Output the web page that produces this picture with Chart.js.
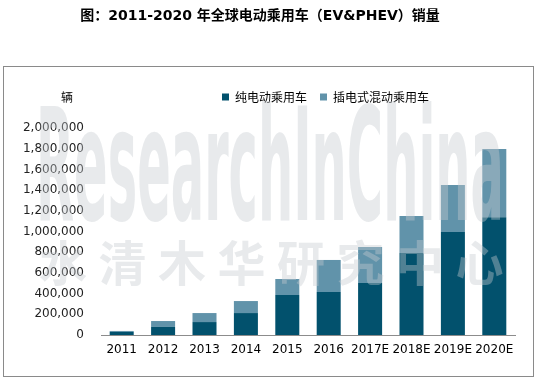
<!DOCTYPE html>
<html><head><meta charset="utf-8">
<script src="https://cdn.jsdelivr.net/npm/chart.js@4.4.0/dist/chart.umd.min.js"></script>
<style>html,body{margin:0;padding:0;background:#fff;}#wrap{width:537px;height:382px;}</style>
</head><body><div id="wrap"><canvas id="c" width="537" height="382"></canvas></div>
<script>
const categories = ['2011','2012','2013','2014','2015','2016','2017E','2018E','2019E','2020E'];
const bevSales  = [30000, 80000, 125000, 212000, 386000, 415000, 502000, 792000, 995000, 1137000];
const phevSales = [9000, 55000, 87000, 116000, 155000, 310000, 348000, 358000, 454000, 660000];
const seriesNames = ['纯电动乘用车', '插电式混动乘用车'];
const yMin = 0, yMax = 2000000, yStep = 200000;
const titleText = '图：2011-2020 年全球电动乘用车（EV&PHEV）销量';
const unitLabel = '辆';
const watermarkEn = 'ResearchInChina';
const watermarkCn = '水清木华研究中心';

const LATIN = '"DejaVu Sans", "Noto Sans CJK SC", sans-serif';
const CJK = '"Noto Sans CJK SC", "DejaVu Sans", sans-serif';

const decor = {
  id: 'decor',
  afterLayout(chart) {
    const lg = chart.legend;
    if (lg) { const w = lg.right - lg.left; lg.left = 209; lg.right = 209 + w; }
    const t = chart.titleBlock;
    if (t) { t.left -= 9; t.right -= 9; }
  },
  beforeDraw(chart) {
    const ctx = chart.ctx;
    ctx.save();
    ctx.strokeStyle = '#8a8a8a';
    ctx.lineWidth = 1;
    ctx.strokeRect(3.5, 66.5, 530, 310);
    ctx.fillStyle = '#000';
    ctx.font = '12px ' + CJK;
    ctx.textAlign = 'center';
    ctx.textBaseline = 'middle';
    ctx.fillText(unitLabel, 67, 97);
    ctx.restore();
  },
  afterDatasetsDraw(chart) {
    const ctx = chart.ctx;
    ctx.save();
    ctx.fillStyle = 'rgba(198,202,208,0.40)';
    ctx.font = 'bold 156px "DejaVu Sans Condensed", "DejaVu Sans", sans-serif';
    ctx.textBaseline = 'alphabetic';
    ctx.textAlign = 'left';
    const m = ctx.measureText(watermarkEn);
    const sx = 468 / m.width;
    ctx.translate(36, 220);
    ctx.scale(sx, 1);
    ctx.fillText(watermarkEn, 0, 0);
    ctx.restore();
    ctx.save();
    ctx.fillStyle = 'rgba(198,202,208,0.40)';
    ctx.font = 'bold 48px ' + CJK;
    ctx.textAlign = 'center';
    ctx.textBaseline = 'middle';
    const chars = Array.from(watermarkCn);
    chars.forEach((ch, i) => ctx.fillText(ch, 63 + i * 59.5, 263));
    ctx.restore();
  }
};

new Chart(document.getElementById('c'), {
  type: 'bar',
  data: {
    labels: categories,
    datasets: [
      { label: seriesNames[0], data: bevSales, backgroundColor: '#02516d', borderWidth: 0, barPercentage: 0.58, categoryPercentage: 1.0 },
      { label: seriesNames[1], data: phevSales, backgroundColor: '#6193aa', borderWidth: 0, barPercentage: 0.58, categoryPercentage: 1.0 }
    ]
  },
  options: {
    responsive: false,
    animation: false,
    devicePixelRatio: 1,
    layout: { padding: { left: 23, right: 22, top: 0, bottom: 20 } },
    plugins: {
      title: {
        display: true, text: titleText, color: '#000',
        font: { family: LATIN, size: 14, weight: 'bold' },
        padding: { top: 8, bottom: 53.2 }
      },
      legend: {
        display: true, position: 'top', align: 'start',
        labels: { font: { family: CJK, size: 12 }, color: '#000', boxWidth: 7, boxHeight: 7, padding: 13 }
      },
      tooltip: { enabled: false }
    },
    scales: {
      x: {
        stacked: true,
        grid: { display: false, drawTicks: false },
        border: { display: true, color: '#8c8c8c', width: 1 },
        ticks: { font: { family: LATIN, size: 12 }, color: '#000', padding: 8, maxRotation: 0, autoSkip: false },
        afterFit(s) { s.height = 27; }
      },
      x2: {
        type: 'category', position: 'top', display: true,
        grid: { display: false, drawTicks: false },
        border: { display: false },
        ticks: { display: false },
        afterFit(s) { s.height = 15; }
      },
      y: {
        stacked: true, min: yMin, max: yMax, z: 1,
        grid: { display: false, drawTicks: false },
        border: { display: false },
        ticks: { stepSize: yStep, font: { family: LATIN, size: 12 }, color: '#222', padding: 17,
          callback: v => Number(v).toLocaleString('en-US') },
        afterFit(s) { s.width = 78; }
      }
    }
  },
  plugins: [decor]
});
</script>
</body></html>
